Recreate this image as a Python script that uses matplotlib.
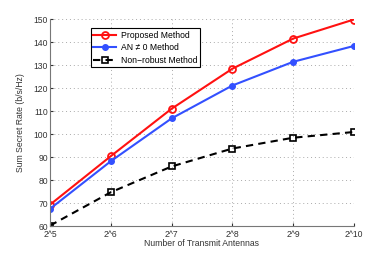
import numpy as np
import matplotlib
matplotlib.use("Agg")
import matplotlib.pyplot as plt

# --- data ---
exponents = [5, 6, 7, 8, 9, 10]
tick_labels = ["2^5", "2^6", "2^7", "2^8", "2^9", "2^10"]
proposed = [69.3, 90.4, 111.0, 128.4, 141.5, 149.8]
an_nonzero = [67.5, 88.2, 106.8, 121.1, 131.4, 138.3]
non_robust = [60.2, 74.7, 85.9, 93.7, 98.4, 100.9]

plt.rcParams['font.family'] = ['Liberation Sans', 'DejaVu Sans']
fig = plt.figure(figsize=(3.91, 2.54), dpi=100)
ax = fig.add_axes([0.128, 0.110, 0.777, 0.815])

ax.plot(exponents, proposed, color='#ff1111', lw=1.5, marker='o', ms=5,
        mfc='none', mec='#ff1111', mew=1.3, label='Proposed Method')
ax.plot(exponents, an_nonzero, color='#3350ff', lw=1.5, marker='o', ms=4,
        mfc='#3350ff', mec='#3350ff', label='AN \u2260 0 Method')
ax.plot(exponents, non_robust, color='black', lw=1.5, ls=(0, (3.5, 2.5)),
        marker='s', ms=4, mfc='none', mec='black', mew=1.2,
        label='Non\u2212robust Method')

ax.set_xlim(5, 10)
ax.set_ylim(60, 150)
ax.set_xticks(exponents)
ax.set_xticklabels(tick_labels)
ax.set_yticks(np.arange(60, 151, 10))
ax.tick_params(direction='in', length=2.5, labelsize=6.2, colors='#333333')
ax.tick_params(axis='y', pad=1.5)
ax.tick_params(axis='x', pad=3)
ax.grid(True, ls=(0, (1, 3)), color='#aaaaaa', lw=0.7)
for side in ['top', 'right']:
    ax.spines[side].set_visible(False)
for side in ['left', 'bottom']:
    ax.spines[side].set_color('#777777')
    ax.spines[side].set_linewidth(0.8)

ax.set_xlabel('Number of Transmit Antennas', fontsize=6.2, color='#333333',
              labelpad=0)
ax.set_ylabel('Sum Secret Rate (b/s/Hz)', fontsize=6.2, color='#333333',
              labelpad=6)

leg = ax.legend(loc='upper left', bbox_to_anchor=(0.134, 0.955), fontsize=6.2,
                fancybox=False, framealpha=1, edgecolor='black',
                handlelength=2.6, borderpad=0.3, labelspacing=0.4,
                handletextpad=0.6, borderaxespad=0)
leg.get_frame().set_linewidth(0.8)

fig.savefig('out.png', dpi=100)
